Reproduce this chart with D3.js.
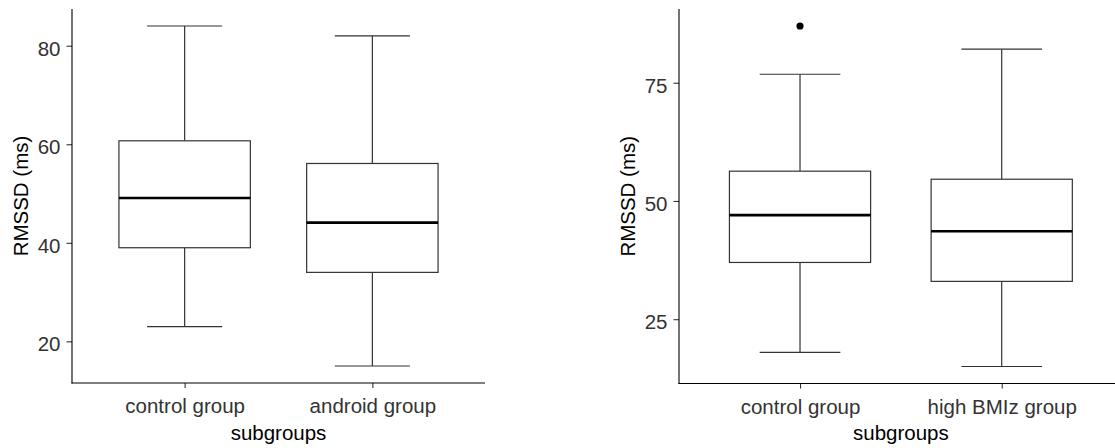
<!DOCTYPE html>
<html>
<head>
<meta charset="utf-8">
<script src="https://cdn.jsdelivr.net/npm/d3@7"></script>
<style>
  html, body { margin: 0; padding: 0; background: #fff; }
  svg { display: block; }
  text { font-family: "Liberation Sans", Arial, sans-serif; }
</style>
</head>
<body>
<svg id="chart" width="1115" height="448"></svg>
<script>
// ---- Data ----
const leftCategories = ["control group", "android group"];
const leftLow    = [23.0, 15.0];
const leftQ1     = [39.0, 34.0];
const leftMedian = [49.1, 44.1];
const leftQ3     = [60.7, 56.1];
const leftHigh   = [84.0, 82.0];
const leftOutliers = [[], []];
const leftTicks = [20, 40, 60, 80];

const rightCategories = ["control group", "high BMIz group"];
const rightLow    = [18.0, 15.0];
const rightQ1     = [37.0, 33.0];
const rightMedian = [47.0, 43.6];
const rightQ3     = [56.3, 54.6];
const rightHigh   = [76.8, 82.1];
const rightOutliers = [[87.0], []];
const rightTicks = [25, 50, 75];

const yTitle = "RMSSD (ms)";
const xTitle = "subgroups";

const svg = d3.select("#chart");
const FS = 20.5;

function panel(cfg) {
  const g = svg.append("g");
  const n = cfg.cats.length;
  const all = [];
  for (let i = 0; i < n; i++) {
    all.push(cfg.low[i], cfg.high[i], ...cfg.out[i]);
  }
  const mn = d3.min(all), mx = d3.max(all);
  const pad = (mx - mn) * 0.05;
  const y = d3.scaleLinear().domain([mn - pad, mx + pad]).range([cfg.bottom, cfg.top]);
  const x = d3.scalePoint().domain(cfg.cats).range([cfg.x0, cfg.x1]).padding(0.6);
  const step = x.step();
  const boxHalf = step * 0.35, capHalf = step * 0.2;

  const data = cfg.cats.map((c, i) => ({
    c, low: cfg.low[i], q1: cfg.q1[i], med: cfg.med[i], q3: cfg.q3[i], high: cfg.high[i], out: cfg.out[i]
  }));

  const boxes = g.selectAll("g.box").data(data).join("g").attr("class", "box");
  const lineCol = "#333333";
  const sw = 1.2;
  // whiskers
  boxes.append("line")
    .attr("x1", d => x(d.c)).attr("x2", d => x(d.c))
    .attr("y1", d => y(d.high)).attr("y2", d => y(d.q3))
    .attr("stroke", lineCol).attr("stroke-width", sw);
  boxes.append("line")
    .attr("x1", d => x(d.c)).attr("x2", d => x(d.c))
    .attr("y1", d => y(d.q1)).attr("y2", d => y(d.low))
    .attr("stroke", lineCol).attr("stroke-width", sw);
  // caps
  boxes.append("line")
    .attr("x1", d => x(d.c) - capHalf).attr("x2", d => x(d.c) + capHalf)
    .attr("y1", d => y(d.high)).attr("y2", d => y(d.high))
    .attr("stroke", lineCol).attr("stroke-width", sw);
  boxes.append("line")
    .attr("x1", d => x(d.c) - capHalf).attr("x2", d => x(d.c) + capHalf)
    .attr("y1", d => y(d.low)).attr("y2", d => y(d.low))
    .attr("stroke", lineCol).attr("stroke-width", sw);
  // box
  boxes.append("rect")
    .attr("x", d => x(d.c) - boxHalf).attr("width", boxHalf * 2)
    .attr("y", d => y(d.q3)).attr("height", d => y(d.q1) - y(d.q3))
    .attr("fill", "#fff").attr("stroke", lineCol).attr("stroke-width", sw);
  // median
  boxes.append("line")
    .attr("x1", d => x(d.c) - boxHalf).attr("x2", d => x(d.c) + boxHalf)
    .attr("y1", d => y(d.med)).attr("y2", d => y(d.med))
    .attr("stroke", "#000").attr("stroke-width", 2.6);
  // outliers
  boxes.selectAll("circle").data(d => d.out.map(v => ({ c: d.c, v }))).join("circle")
    .attr("cx", d => x(d.c)).attr("cy", d => y(d.v)).attr("r", 3.6).attr("fill", "#000");

  // axes
  const yAxis = g.append("g").attr("transform", `translate(${cfg.x0},0)`)
    .call(d3.axisLeft(y).tickValues(cfg.ticks).tickSize(5.5).tickPadding(6).tickFormat(d3.format("d")));
  const xAxis = g.append("g").attr("transform", `translate(0,${cfg.bottom})`)
    .call(d3.axisBottom(x).tickSize(5).tickPadding(6));
  [yAxis, xAxis].forEach(a => {
    a.select(".domain").remove();
    a.selectAll(".tick line").attr("stroke", "#333").attr("stroke-width", 1.1);
    a.selectAll(".tick text").attr("fill", "#333").style("font-size", FS + "px")
      .style("font-family", '"Liberation Sans", Arial, sans-serif');
  });
  yAxis.selectAll(".tick text").attr("dy", "0.46em");
  xAxis.selectAll(".tick text").attr("dy", null).attr("y", 30);

  g.append("line").attr("x1", cfg.x0).attr("x2", cfg.x0).attr("y1", cfg.top).attr("y2", cfg.bottom + 0.5)
    .attr("stroke", "#000").attr("stroke-width", 1.1);
  g.append("line").attr("x1", cfg.x0 - 0.5).attr("x2", cfg.x1).attr("y1", cfg.bottom).attr("y2", cfg.bottom)
    .attr("stroke", "#000").attr("stroke-width", 1.1);

  // titles
  g.append("text").attr("x", (cfg.x0 + cfg.x1) / 2).attr("y", 440).attr("text-anchor", "middle")
    .style("font-size", FS + "px").attr("fill", "#000").text(xTitle);
  g.append("text").attr("transform", `translate(${cfg.yTitleX},${(cfg.top + cfg.bottom) / 2}) rotate(-90)`)
    .attr("text-anchor", "middle").style("font-size", FS + "px").attr("fill", "#000").text(yTitle);
}

panel({
  cats: leftCategories, low: leftLow, q1: leftQ1, med: leftMedian, q3: leftQ3, high: leftHigh, out: leftOutliers,
  ticks: leftTicks, x0: 72, x1: 485, top: 9, bottom: 383, yTitleX: 27.5
});
panel({
  cats: rightCategories, low: rightLow, q1: rightQ1, med: rightMedian, q3: rightQ3, high: rightHigh, out: rightOutliers,
  ticks: rightTicks, x0: 679, x1: 679 + 201.7 * 2.2, top: 9, bottom: 383.5, yTitleX: 634.5
});
</script>
</body>
</html>
